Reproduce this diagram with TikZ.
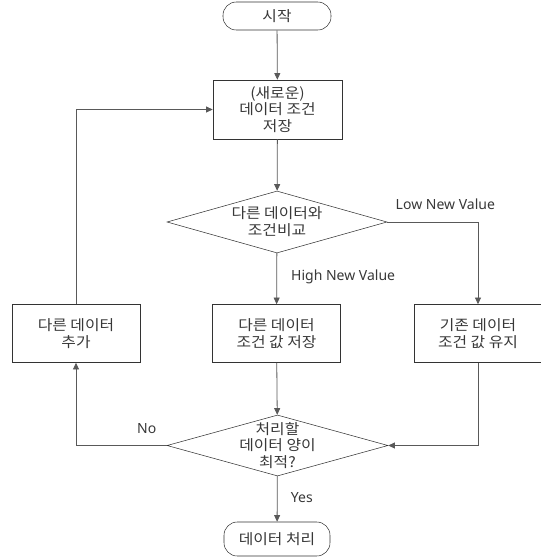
\documentclass[tikz,border=0pt]{standalone}
\usepackage{fontspec}
\setmainfont{Noto Sans}
\newfontfamily\kofont[FakeStretch=1.1]{Noto Sans CJK KR}
\usepackage{tikz}
\usetikzlibrary{arrows.meta,shapes.geometric}

\definecolor{linegray}{HTML}{595959}
\definecolor{textgray}{HTML}{383838}

\begin{document}
\begin{tikzpicture}[
    x=0.75pt, y=-0.75pt,
    font=\kofont\fontsize{10.8}{12.6}\selectfont,
    text=textgray,
    term/.style={draw=black!80, rounded corners=10pt, align=center,
                 inner sep=0pt},
    box/.style={draw=black!80, align=center, inner sep=0pt,
                minimum width=128*0.75pt, minimum height=58*0.75pt},
    decision/.style={diamond, draw=black!80, inner sep=0pt,
                     minimum width=220*0.75pt, minimum height=62*0.75pt},
    txt/.style={align=center, inner sep=0pt, text=textgray},
    flow/.style={-{Triangle[length=5pt,width=4.5pt]}, draw=linegray,
                 semithick},
    lbl/.style={font=\fontsize{10.5}{12}\selectfont, inner sep=0pt},
  ]
  \useasboundingbox (0,0) rectangle (540,557);
  \node[term, minimum width=108*0.75pt, minimum height=28*0.75pt]
    (start) at (277,16) {시작};
  \node[box, minimum width=129*0.75pt, minimum height=59*0.75pt]
    (store) at (277.5,109.5) {(새로운)\\데이터 조건\\저장};
  \node[decision, label={[txt]center:다른 데이터와\\조건비교}]
    (cmp) at (277,222) {};
  \node[box] (add) at (76,333.5) {다른 데이터\\추가};
  \node[box] (save) at (276.5,333.5) {다른 데이터\\조건 값 저장};
  \node[box] (keep) at (478,333.5) {기존 데이터\\조건 값 유지};
  \node[decision, minimum width=221*0.75pt, minimum height=61*0.75pt,
        label={[txt]center:처리할\\데이터 양이\\최적?}]
    (check) at (277.5,445.5) {};
  \node[term, minimum width=106*0.75pt, minimum height=34*0.75pt]
    (done) at (277,539) {데이터 처리};

  % main flow
  \draw[flow] (start) -- (store);
  \draw[flow] (store) -- (cmp);
  \draw[flow] (cmp) -- node[lbl, anchor=west, xshift=10.5pt, pos=0.47] {High New Value} (save);
  \draw[flow] (cmp.east) -| node[lbl, pos=0.32, yshift=13.5pt] {Low New Value} (keep.north);
  \draw[flow] (save) -- (check);
  \draw[flow] (keep.south) |- (check.east);
  \draw[flow] (check) -- node[lbl, anchor=west, xshift=10pt, pos=0.46] {Yes} (done);
  % loop back
  \draw[flow] (check.west) -| node[lbl, pos=0.11, yshift=12.75pt] {No} (add.south);
  \draw[flow] (add.north) |- (store.west);
\end{tikzpicture}
\end{document}
